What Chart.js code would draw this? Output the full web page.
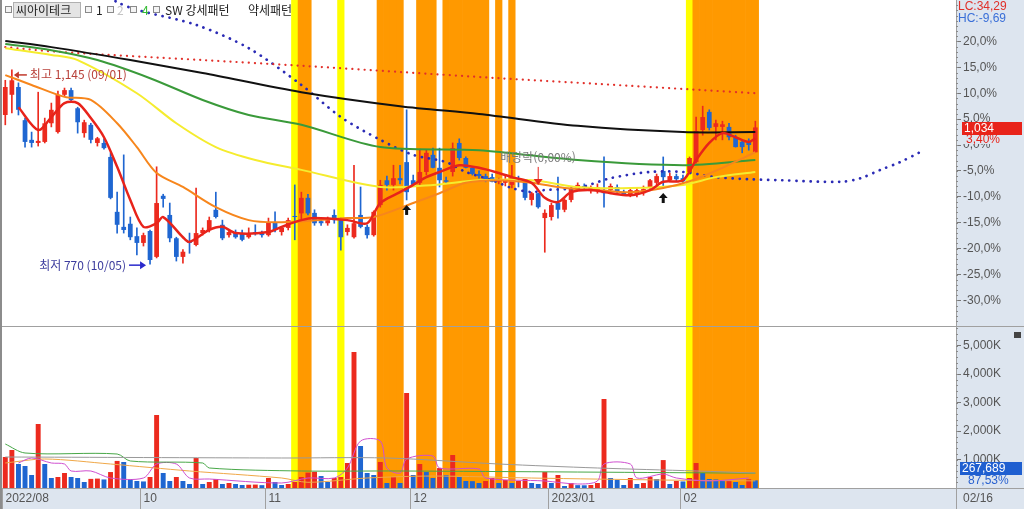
<!DOCTYPE html>
<html lang="ko">
<head>
<meta charset="utf-8">
<title>씨아이테크</title>
<script src="https://cdn.jsdelivr.net/npm/chart.js@4.4.0/dist/chart.umd.min.js"></script>
<style>
  html, body { margin: 0; padding: 0; background: #fff; }
  #wrap { width: 1024px; height: 509px; }
</style>
</head>
<body>
<div id="wrap"><canvas id="stockChart" width="1024" height="509"></canvas></div>
<script>
// DATA ---------------------------------------------------------------------------
const SLOTS = 145;          // 115 trading days + empty room on the right
const BASE = 1000;          // previous close, 0% line of the price axis
const PRICE_MIN = 650.6;
const PRICE_MAX = 1280;
const VOL_MAX = 5686;       // K shares

const opens  = [1058,1097,1112,1048,1010,1004,1006,1042,1025,1097,1106,1071,1023,1039,1004,1004,977,871,842,848,
                824,811,834,784,902,865,820,784,813,807,830,836,875,846,826,832,830,822,832,830,
                826,851,832,840,863,868,898,869,853,849,865,855,832,822,865,842,826,884,932,923,
                936,967,932,927,948,981,956,932,948,1004,975,956,944,940,938,929,927,923,936,929,
                894,907,859,861,888,875,894,917,921,911,911,913,913,919,909,905,905,907,917,927,
                950,932,940,936,948,967,1029,1064,1035,1035,1035,1015,1006,1008,986];
const highs  = [1125,1145,1120,1052,1025,1102,1052,1081,1104,1110,1110,1073,1048,1042,1015,1012,985,909,981,861,
                840,830,836,958,905,888,822,798,830,917,840,861,909,855,836,836,836,840,846,834,
                859,871,842,859,923,909,905,875,859,861,875,859,846,961,919,846,873,932,940,961,
                961,1068,942,992,990,994,994,938,1004,1012,977,958,950,944,944,936,942,961,940,932,
                909,907,875,888,938,896,919,927,925,921,925,977,925,923,913,917,917,921,934,944,
                977,946,944,942,977,1054,1075,1068,1048,1046,1042,1019,1010,1012,1046];
const lows   = [1039,1062,1058,996,996,998,1004,1035,1023,1095,1085,1023,1015,1004,998,992,896,830,830,817,
                788,805,770,782,880,813,776,772,791,805,826,832,859,817,822,820,815,820,826,822,
                824,832,826,836,817,852,865,845,845,845,849,797,826,820,840,820,824,880,913,913,
                925,894,923,923,942,956,919,927,940,971,956,942,936,929,929,925,921,917,919,894,
                884,878,793,855,859,871,890,913,913,907,907,880,909,907,903,900,900,903,913,923,
                917,929,929,925,944,965,1019,1029,1010,1010,1010,996,985,990,986];
const closes = [1112,1125,1068,1006,1004,1008,1042,1068,1097,1106,1087,1044,1044,1010,1013,994,898,846,836,822,
                811,826,778,888,896,820,784,794,811,830,836,855,861,820,832,822,817,830,830,826,
                851,836,840,855,861,898,868,849,849,855,855,822,840,849,842,826,871,923,923,936,
                932,909,923,948,985,956,932,929,994,975,956,944,940,932,929,932,932,938,934,898,
                907,880,869,884,875,894,917,923,917,917,919,907,921,911,905,913,913,915,932,940,
                938,940,934,930,975,1027,1054,1033,1042,1040,1015,996,996,1000,1034];
const volumes = [1088,1334,842,772,456,2246,842,351,386,527,386,351,210,320,330,300,560,950,912,316,
                 245,230,386,2562,527,245,386,245,140,1053,140,210,316,140,175,140,105,115,120,100,
                 351,210,105,140,210,386,540,570,420,210,351,386,877,4774,1474,527,456,912,175,386,
                 175,3334,456,842,560,351,700,456,1158,386,245,240,175,245,351,175,280,175,245,316,
                 175,140,560,175,456,70,175,100,95,105,175,3124,351,280,105,351,140,175,386,316,
                 980,140,245,230,351,877,527,316,300,245,255,210,105,306,267.689];   // K shares

const pctTicks = [20, 15, 10, 5, 0, -5, -10, -15, -20, -25, -30];   // % from BASE
const volTicks = [1000, 2000, 3000, 4000, 5000];                   // K shares
const monthTicks = [[0, '2022/08'], [21, '10'], [40, '11'], [62, '12'], [83, '2023/01'], [103, '02']];
const lastDate = '02/16';

// signal days shaded over both panels
const yellowDays = [44, 51, 104];
const orangeDays = [45, 46, 57, 58, 59, 60, 63, 64, 65, 67, 68, 69, 70, 71, 72, 73, 75, 77,
                    105, 106, 107, 108, 109, 110, 111, 112, 113, 114];

// moving averages: [day index, price]
const ma5 = [[2,1073],[5,1029],[7,1054],[9,1081],[11,1081],[13,1052],[15,1015],[17,958],[19,894],[21,842],
             [23,849],[24,861],[27,822],[28,813],[31,836],[33,842],[35,830],[40,832],[42,842],[45,855],
             [47,859],[52,855],[55,849],[57,888],[60,909],[62,923],[64,938],[66,948],[69,961],[72,956],
             [75,946],[77,938],[80,927],[82,898],[84,890],[86,909],[89,913],[92,907],[95,903],[98,913],
             [100,929],[103,932],[105,971],[107,1004],[109,1023],[111,1015],[113,1006],[114,1013]];
const ma20 = [[0,1135],[4,1116],[9,1093],[13,1087],[17,1042],[20,996],[23,946],[27,919],[32,880],[37,855],
              [42,851],[52,859],[56,861],[62,888],[66,907],[70,927],[75,932],[80,927],[85,917],[90,913],
              [95,909],[100,917],[104,930],[109,956],[114,986]];
const ma60 = [[0,1187],[7,1174],[11,1164],[20,1100],[26,1042],[32,996],[38,971],[45,952],[57,919],[65,923],
              [72,932],[80,932],[87,919],[95,917],[103,923],[108,938],[114,948]];
const ma120 = [[0,1195],[7,1183],[14,1164],[22,1129],[30,1087],[37,1058],[45,1039],[57,996],[72,990],
               [87,971],[103,961],[114,971]];
const ma240 = [[0,1201],[7,1189],[19,1164],[30,1139],[45,1102],[60,1075],[72,1060],[87,1037],[103,1025],[114,1025]];
const maLongDot = [[0,1189],[8,1180],[30,1164],[45,1153],[60,1141],[75,1129],[90,1118],[106,1106],[114,1100]];
const leadSpan = [[14,1300],[17,1276],[20,1261],[29,1232],[37,1187],[45,1116],[51,1054],[57,1010],[62,981],
                  [67,967],[70,948],[74,932],[77,917],[80,909],[82,913],[87,917],[92,936],[98,948],[103,948],
                  [108,938],[113,934],[118,932],[127,929],[130,936],[133,952],[136,967],[139,986]];

// volume averages: [day index, K shares]
const volMaGray = [[0,1088],[42,1053],[58,1053],[75,842],[90,702],[105,597],[114,526]];
const volMaGreen = [[0,1544],[3,1229],[17,1193],[19,948],[30,878],[31,702],[45,597],[60,597],[114,520]];
const volMaPink = [[2,878],[4,1053],[7,878],[9,842],[10,597],[13,597],[16,351],[21,351],[23,842],[26,842],
                   [28,351],[31,316],[42,176],[46,351],[50,351],[52,702],[54,1650],[57,1650],[58,702],[60,527],
                   [61,1018],[65,1123],[66,702],[72,667],[73,351],[82,246],[87,140],[90,246],[91,842],[95,842],
                   [96,351],[100,491],[102,351],[107,246],[113,351]];
const volMaOrange = [[0,878],[6,1018],[16,842],[28,597],[42,351],[46,200],[55,351],[65,420],[80,350],[100,280],[114,250]];

const highMark = { i: 1, price: 1145, text: '최고 1,145 (09/01)' };
const lowMark = { i: 22, price: 770, text: '최저 770 (10/05)' };
const exDivMark = { i: 81, price: 923, text: '배당락(0,00%)' };
const buySignals = [61, 100];

// STYLE -------------------------------------------------------------------------
const UP = '#ec2a1e';
const DOWN = '#1f66d1';
const YELLOW = '#ffff00';
const ORANGE = '#ff9900';
const AXIS_BG = '#dde5ef';
const AXIS_W = 68;
const KFONT = "'Noto Sans CJK KR', sans-serif";

Chart.defaults.font.family = "'Liberation Sans', Arial, sans-serif";
Chart.defaults.font.size = 12;

const idx = Array.from({ length: SLOTS }, (_, i) => i);
const labels = idx.map(i => 'd' + i);
const spread = pts => {
    const a = new Array(SLOTS).fill(null);
    pts.forEach(([i, v]) => { a[i] = v; });
    return a;
};
const comma = s => s.replace('.', ',');

const candleColor = closes.map((c, i) => c >= opens[i] ? UP : DOWN);
const volColor = volumes.map((v, i) => i === 0 || v >= volumes[i - 1] ? UP : DOWN);
const bandColor = idx.map(i => yellowDays.includes(i) ? YELLOW : orangeDays.includes(i) ? ORANGE : null);

function line(pts, color, width, axis, dotted) {
    return {
        type: 'line', data: spread(pts), yAxisID: axis, order: 1,
        borderColor: color, borderWidth: width,
        borderDash: dotted ? [0.1, dotted] : [], borderCapStyle: dotted ? 'round' : 'butt',
        pointRadius: 0, spanGaps: true, tension: 0.3
    };
}

function bandBars(axis, lo, hi) {
    return {
        type: 'bar', yAxisID: axis, order: 10, grouped: false,
        data: idx.map(i => bandColor[i] ? [lo, hi] : null),
        backgroundColor: bandColor, barPercentage: 1, categoryPercentage: 1
    };
}

// no label padding, the panels fill the canvas edge to edge
function fitAxis(width) {
    return s => {
        if (width) s.width = width;
        s.paddingTop = 0; s.paddingBottom = 0; s.paddingLeft = 0; s.paddingRight = 0;
    };
}

// drawing helpers
function arrowHead(ctx, x, y, dir, w, h, color) {
    ctx.fillStyle = color;
    ctx.beginPath();
    if (dir === 'left') { ctx.moveTo(x, y); ctx.lineTo(x + h, y - w / 2); ctx.lineTo(x + h, y + w / 2); }
    if (dir === 'right') { ctx.moveTo(x, y); ctx.lineTo(x - h, y - w / 2); ctx.lineTo(x - h, y + w / 2); }
    if (dir === 'down') { ctx.moveTo(x, y); ctx.lineTo(x - w / 2, y - h); ctx.lineTo(x + w / 2, y - h); }
    if (dir === 'up') { ctx.moveTo(x, y); ctx.lineTo(x - w / 2, y + h); ctx.lineTo(x + w / 2, y + h); }
    ctx.closePath();
    ctx.fill();
}

function smallBox(ctx, x, y) {
    ctx.fillStyle = '#f4f4f4';
    ctx.fillRect(x, y, 6, 6);
    ctx.strokeStyle = '#8a8a8a';
    ctx.strokeRect(x + 0.5, y + 0.5, 6, 6);
}

// PLUGIN: axis backgrounds, labels, marks --------------------------------------
const htsPlugin = {
    id: 'hts',
    beforeDraw(chart) {
        const { ctx, chartArea: a, width, height } = chart;
        ctx.save();
        ctx.fillStyle = '#fff';
        ctx.fillRect(0, 0, width, height);
        ctx.fillStyle = AXIS_BG;
        ctx.fillRect(a.right, 0, width - a.right, height);
        ctx.fillRect(0, a.bottom, width, height - a.bottom);
        ctx.restore();
    },
    afterDraw(chart) {
        const { ctx, chartArea: a, width, height } = chart;
        const { x, y, yv } = chart.scales;
        const slot = x.getPixelForValue(1) - x.getPixelForValue(0);
        ctx.save();

        // frame lines
        ctx.strokeStyle = '#a0a0a0';
        ctx.lineWidth = 1;
        ctx.beginPath();
        ctx.moveTo(0, Math.round(y.bottom) + 0.5); ctx.lineTo(width, Math.round(y.bottom) + 0.5);
        ctx.moveTo(0, Math.round(a.bottom) + 0.5); ctx.lineTo(width, Math.round(a.bottom) + 0.5);
        ctx.moveTo(a.right + 0.5, a.bottom); ctx.lineTo(a.right + 0.5, height);
        ctx.stroke();
        ctx.fillStyle = '#8c8c8c';
        ctx.fillRect(0, 0, 2, height);

        // minor ticks on the right axes
        ctx.strokeStyle = '#8a8a8a';
        ctx.beginPath();
        for (let v = 660; v < PRICE_MAX; v += 10) {
            const py = Math.round(y.getPixelForValue(v)) + 0.5;
            ctx.moveTo(a.right, py); ctx.lineTo(a.right + 2, py);
        }
        for (let v = 200; v < VOL_MAX; v += 200) {
            const py = Math.round(yv.getPixelForValue(v)) + 0.5;
            ctx.moveTo(a.right, py); ctx.lineTo(a.right + 2, py);
        }
        ctx.stroke();

        // month labels on the date band
        ctx.font = '12px ' + Chart.defaults.font.family;
        ctx.textBaseline = 'middle';
        ctx.textAlign = 'left';
        monthTicks.forEach(([i, text]) => {
            const px = Math.round(x.getPixelForValue(i) - slot / 2) + 0.5;
            ctx.strokeStyle = '#a0a0a0';
            ctx.beginPath(); ctx.moveTo(px, a.bottom); ctx.lineTo(px, height); ctx.stroke();
            ctx.fillStyle = '#555';
            ctx.fillText(text, px + 3, a.bottom + 11);
        });
        ctx.fillText(lastDate, a.right + 7, a.bottom + 11);

        // header
        ctx.font = '12px ' + KFONT;
        smallBox(ctx, 5, 6);
        ctx.fillStyle = '#e4e4e4';
        ctx.fillRect(13, 2, 68, 16);
        ctx.strokeStyle = '#b0b0b0';
        ctx.strokeRect(13.5, 2.5, 67, 15);
        ctx.fillStyle = '#222';
        ctx.fillText('씨아이테크', 16, 10);
        smallBox(ctx, 85, 6);
        ctx.fillStyle = '#222';
        ctx.fillText('1', 96, 10);
        smallBox(ctx, 107, 6);
        ctx.fillStyle = '#c4c4c4';
        ctx.fillText('2', 117, 10);
        smallBox(ctx, 130, 6);
        ctx.fillStyle = '#33bb33';
        ctx.fillText('4', 142, 10);
        smallBox(ctx, 153, 6);
        ctx.fillStyle = '#222';
        ctx.fillText('SW 강세패턴', 165, 10);
        ctx.fillText('약세패턴', 248, 10);

        // high / low marks
        let px = x.getPixelForValue(highMark.i);
        let py = y.getPixelForValue(highMark.price) + 5;
        ctx.strokeStyle = '#c0392b';
        ctx.lineWidth = 1.5;
        ctx.beginPath(); ctx.moveTo(px + 6, py); ctx.lineTo(px + 15, py); ctx.stroke();
        arrowHead(ctx, px + 2, py, 'left', 7, 5, '#c0392b');
        ctx.fillStyle = '#b8413a';
        ctx.fillText(highMark.text, px + 18, py);

        px = x.getPixelForValue(lowMark.i);
        py = y.getPixelForValue(lowMark.price) + 1;
        ctx.strokeStyle = '#2a2acc';
        ctx.beginPath(); ctx.moveTo(px - 21, py); ctx.lineTo(px - 9, py); ctx.stroke();
        arrowHead(ctx, px - 4, py, 'right', 8, 6, '#2a2acc');
        ctx.fillStyle = '#3d3d9e';
        ctx.textAlign = 'right';
        ctx.fillText(lowMark.text, px - 24, py);
        ctx.textAlign = 'left';

        // ex-dividend marker
        px = x.getPixelForValue(exDivMark.i);
        py = y.getPixelForValue(exDivMark.price);
        ctx.strokeStyle = '#e8231a';
        ctx.lineWidth = 1;
        ctx.beginPath(); ctx.moveTo(px, py - 18); ctx.lineTo(px, py - 5); ctx.stroke();
        arrowHead(ctx, px, py, 'down', 9, 6, '#e8231a');
        ctx.fillStyle = '#7a7a7a';
        ctx.fillText(exDivMark.text, px - 38, py - 27);

        // buy signal arrows
        buySignals.forEach(i => {
            const bx = x.getPixelForValue(i);
            const by = y.getPixelForValue(lows[i]) + 5;
            arrowHead(ctx, bx, by, 'up', 9, 5, '#111');
            ctx.fillRect(bx - 1.5, by + 5, 3, 5);
        });

        // right axis labels
        ctx.font = '12px ' + Chart.defaults.font.family;
        ctx.fillStyle = '#e0302a';
        ctx.fillText('LC:34,29', a.right + 2, 7);
        ctx.fillStyle = '#3a6fd8';
        ctx.fillText('HC:-9,69', a.right + 2, 19);

        const last = closes.length - 1;
        const ly = Math.round(y.getPixelForValue(closes[last]));
        ctx.fillStyle = AXIS_BG;
        ctx.fillRect(a.right + 5, ly + 7, width - a.right - 5, 10);
        ctx.fillStyle = '#e8231a';
        ctx.fillRect(a.right + 6, ly - 5, 60, 13);
        ctx.fillStyle = '#fff';
        ctx.fillText(closes[last].toLocaleString('en-US'), a.right + 8, ly + 2);
        ctx.fillStyle = '#e8231a';
        ctx.fillText(comma(((closes[last] / BASE - 1) * 100).toFixed(2)) + '%', a.right + 10, ly + 13);

        const vy = Math.round(yv.getPixelForValue(volumes[last])) - 12;
        ctx.fillStyle = '#1f5fd0';
        ctx.fillRect(a.right + 4, vy - 6, 62, 13);
        ctx.fillStyle = '#fff';
        ctx.fillText(Math.round(volumes[last] * 1000).toLocaleString('en-US'), a.right + 6, vy + 1);
        ctx.fillStyle = '#2a62d0';
        ctx.fillText('87,53%', a.right + 12, vy + 13);

        ctx.fillStyle = '#444';
        ctx.fillRect(width - 10, yv.top + 6, 7, 6);
        ctx.restore();
    }
};

// CHART -------------------------------------------------------------------------
const ctx = document.getElementById('stockChart').getContext('2d');

new Chart(ctx, {
    type: 'bar',
    data: {
        labels: labels,
        datasets: [
            line(ma5, '#e8231a', 2.5, 'y'),
            line(ma20, '#f7861c', 2, 'y'),
            line(ma60, '#f5ec2e', 2, 'y'),
            line(ma120, '#3a9a3a', 2, 'y'),
            line(ma240, '#111111', 2, 'y'),
            line(maLongDot, '#e2302a', 2.2, 'y', 6),
            line(leadSpan, '#2b2bb5', 2.7, 'y', 7),
            line(volMaGray, '#9a9a9a', 1, 'yv'),
            line(volMaGreen, '#48a848', 1, 'yv'),
            line(volMaPink, '#d050d0', 1, 'yv'),
            line(volMaOrange, '#f0a848', 1, 'yv'),
            {
                type: 'bar', label: 'body', yAxisID: 'y', order: 4, grouped: false,
                data: opens.map((o, i) => [o, closes[i]]),
                backgroundColor: candleColor, barPercentage: 0.72, categoryPercentage: 1, minBarLength: 1
            },
            {
                type: 'bar', label: 'wick', yAxisID: 'y', order: 5, grouped: false,
                data: lows.map((l, i) => [l, highs[i]]),
                backgroundColor: candleColor, barThickness: 1
            },
            {
                type: 'bar', label: 'volume', yAxisID: 'yv', order: 4, grouped: false,
                data: volumes, backgroundColor: volColor, barPercentage: 0.75, categoryPercentage: 1
            },
            bandBars('y', PRICE_MIN, PRICE_MAX),
            bandBars('yv', 0, VOL_MAX)
        ]
    },
    options: {
        responsive: false,
        animation: false,
        layout: { autoPadding: false, padding: { left: 2, top: 0, right: 0, bottom: 0 } },
        plugins: { legend: { display: false }, tooltip: { enabled: false } },
        scales: {
            x: {
                type: 'category', offset: true,
                grid: { display: false }, border: { display: false }, ticks: { display: false },
                afterFit: s => { s.height = 21; s.paddingLeft = 0; s.paddingRight = 0; }
            },
            y: {
                position: 'right', stack: 'hts', stackWeight: 326,
                min: PRICE_MIN, max: PRICE_MAX,
                afterFit: fitAxis(AXIS_W),
                afterBuildTicks: s => { s.ticks = pctTicks.map(p => ({ value: BASE * (1 + p / 100) })); },
                grid: { drawOnChartArea: false, tickLength: 5, color: '#777' },
                border: { color: '#a0a0a0' },
                ticks: {
                    autoSkip: false, padding: 2, color: '#555',
                    callback: v => comma(((v - BASE) / BASE * 100).toFixed(1)) + '%'
                }
            },
            yv: {
                position: 'right', stack: 'hts', stackWeight: 162,
                min: 0, max: VOL_MAX,
                afterFit: fitAxis(AXIS_W),
                afterBuildTicks: s => { s.ticks = volTicks.map(v => ({ value: v })); },
                grid: { drawOnChartArea: false, tickLength: 5, color: '#777' },
                border: { color: '#a0a0a0' },
                ticks: {
                    autoSkip: false, padding: 2, color: '#555',
                    callback: v => v.toLocaleString('en-US') + 'K'
                }
            }
        }
    },
    plugins: [htsPlugin]
});
</script>
</body>
</html>
